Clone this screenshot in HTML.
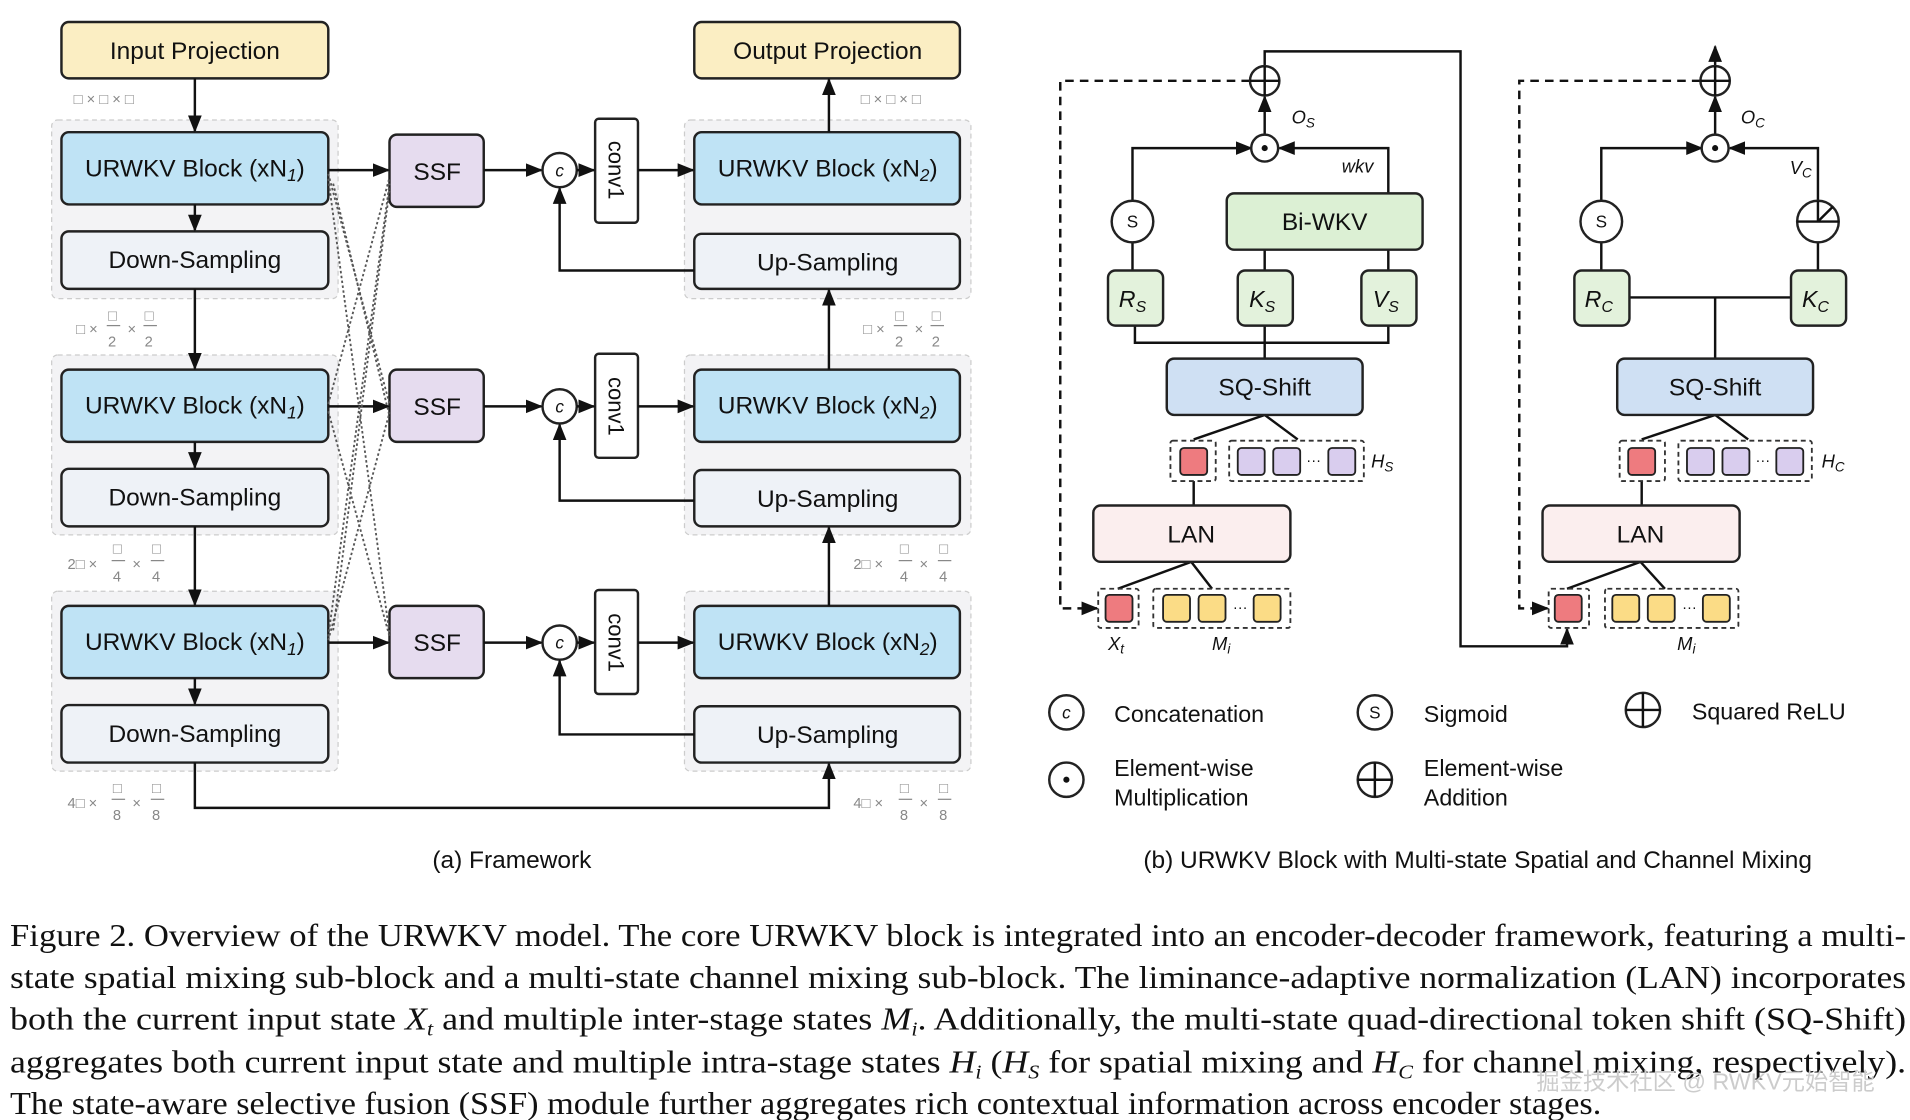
<!DOCTYPE html>
<html><head><meta charset="utf-8"><style>
html,body{margin:0;padding:0;background:#fff;}
svg{display:block}
.t{font-family:"Liberation Sans",sans-serif;fill:#111}
.s{font-family:"Liberation Serif",serif;fill:#111}
.g{font-family:"Liberation Sans",sans-serif;fill:#888;font-size:12px}
</style></head><body>
<svg width="1910" height="1120" viewBox="0 0 1560 915" xmlns="http://www.w3.org/2000/svg">
<defs>
<marker id="a" viewBox="0 0 10 10" refX="9" refY="5" markerWidth="7" markerHeight="7" orient="auto-start-reverse"><path d="M0,1 L10,5 L0,9 z" fill="#111"/></marker>
</defs>
<rect width="1560" height="915" fill="#fff"/>

<g fill="#f3f3f5" stroke="#ccc" stroke-dasharray="4,3">
<rect x="42" y="98" width="234" height="146" rx="5"/>
<rect x="42" y="290" width="234" height="147" rx="5"/>
<rect x="42" y="483" width="234" height="147" rx="5"/>
<rect x="559" y="98" width="234" height="146" rx="5"/>
<rect x="559" y="290" width="234" height="147" rx="5"/>
<rect x="559" y="483" width="234" height="147" rx="5"/>
</g>

<g stroke="#222" stroke-width="2">
<rect x="50" y="18" width="218" height="46" rx="6" fill="#fbeec3"/>
<rect x="567" y="18" width="217" height="46" rx="6" fill="#fbeec3"/>
<rect x="50" y="108" width="218" height="59" rx="6" fill="#bfe3f5"/>
<rect x="50" y="189" width="218" height="47" rx="6" fill="#eef2f7"/>
<rect x="50" y="302" width="218" height="59" rx="6" fill="#bfe3f5"/>
<rect x="50" y="383" width="218" height="47" rx="6" fill="#eef2f7"/>
<rect x="50" y="495" width="218" height="59" rx="6" fill="#bfe3f5"/>
<rect x="50" y="576" width="218" height="47" rx="6" fill="#eef2f7"/>
<rect x="567" y="108" width="217" height="59" rx="6" fill="#bfe3f5"/>
<rect x="567" y="191" width="217" height="45" rx="6" fill="#eef2f7"/>
<rect x="567" y="302" width="217" height="59" rx="6" fill="#bfe3f5"/>
<rect x="567" y="384" width="217" height="46" rx="6" fill="#eef2f7"/>
<rect x="567" y="495" width="217" height="59" rx="6" fill="#bfe3f5"/>
<rect x="567" y="577" width="217" height="46" rx="6" fill="#eef2f7"/>
<rect x="318" y="110" width="77" height="59" rx="6" fill="#e6dcef"/>
<rect x="318" y="302" width="77" height="59" rx="6" fill="#e6dcef"/>
<rect x="318" y="495" width="77" height="59" rx="6" fill="#e6dcef"/>
<rect x="486" y="97" width="35" height="85" rx="3" fill="#fff"/>
<rect x="486" y="289" width="35" height="85" rx="3" fill="#fff"/>
<rect x="486" y="482" width="35" height="85" rx="3" fill="#fff"/>
<circle cx="457" cy="139" r="14" fill="#fff"/>
<circle cx="457" cy="332" r="14" fill="#fff"/>
<circle cx="457" cy="525" r="14" fill="#fff"/>
</g>

<g class="t" font-size="20" text-anchor="middle">
<text x="159" y="48">Input Projection</text>
<text x="676" y="48">Output Projection</text>
<text x="159" y="144">URWKV Block (xN<tspan font-size="14" dy="4" font-style="italic">1</tspan><tspan dy="-4">)</tspan></text>
<text x="159" y="338">URWKV Block (xN<tspan font-size="14" dy="4" font-style="italic">1</tspan><tspan dy="-4">)</tspan></text>
<text x="159" y="531">URWKV Block (xN<tspan font-size="14" dy="4" font-style="italic">1</tspan><tspan dy="-4">)</tspan></text>
<text x="676" y="144">URWKV Block (xN<tspan font-size="14" dy="4" font-style="italic">2</tspan><tspan dy="-4">)</tspan></text>
<text x="676" y="338">URWKV Block (xN<tspan font-size="14" dy="4" font-style="italic">2</tspan><tspan dy="-4">)</tspan></text>
<text x="676" y="531">URWKV Block (xN<tspan font-size="14" dy="4" font-style="italic">2</tspan><tspan dy="-4">)</tspan></text>
<text x="159" y="219">Down-Sampling</text>
<text x="159" y="413">Down-Sampling</text>
<text x="159" y="606">Down-Sampling</text>
<text x="676" y="221">Up-Sampling</text>
<text x="676" y="414">Up-Sampling</text>
<text x="676" y="607">Up-Sampling</text>
<text x="357" y="147">SSF</text>
<text x="357" y="339">SSF</text>
<text x="357" y="532">SSF</text>
<text x="418" y="709">(a) Framework</text>
<text x="1207" y="709">(b) URWKV Block with Multi-state Spatial and Channel Mixing</text>
</g>
<g class="t" font-size="18" text-anchor="middle">
<text transform="translate(497,139) rotate(90)" y="0">conv1</text>
<text transform="translate(497,332) rotate(90)">conv1</text>
<text transform="translate(497,525) rotate(90)">conv1</text>
</g>
<g class="t" font-size="14" font-style="italic" text-anchor="middle">
<text x="457" y="144">c</text><text x="457" y="337">c</text><text x="457" y="530">c</text>
</g>

<g class="g">
<text x="60" y="85">□ × □ × □</text>
<text x="703" y="85">□ × □ × □</text>
<text x="62" y="273">□ ×</text><text x="88" y="262">□</text><text x="88" y="283">2</text><text x="104" y="273">×</text><text x="118" y="262">□</text><text x="118" y="283">2</text>
<text x="705" y="273">□ ×</text><text x="731" y="262">□</text><text x="731" y="283">2</text><text x="747" y="273">×</text><text x="761" y="262">□</text><text x="761" y="283">2</text>
<text x="55" y="465">2□ ×</text><text x="92" y="452">□</text><text x="92" y="475">4</text><text x="108" y="465">×</text><text x="124" y="452">□</text><text x="124" y="475">4</text>
<text x="697" y="465">2□ ×</text><text x="735" y="452">□</text><text x="735" y="475">4</text><text x="751" y="465">×</text><text x="767" y="452">□</text><text x="767" y="475">4</text>
<text x="55" y="660">4□ ×</text><text x="92" y="648">□</text><text x="92" y="670">8</text><text x="108" y="660">×</text><text x="124" y="648">□</text><text x="124" y="670">8</text>
<text x="697" y="660">4□ ×</text><text x="735" y="648">□</text><text x="735" y="670">8</text><text x="751" y="660">×</text><text x="767" y="648">□</text><text x="767" y="670">8</text>
</g>
<g stroke="#888" stroke-width="1">
<line x1="87" y1="266" x2="98" y2="266"/><line x1="117" y1="266" x2="128" y2="266"/>
<line x1="730" y1="266" x2="741" y2="266"/><line x1="760" y1="266" x2="771" y2="266"/>
<line x1="91" y1="458" x2="102" y2="458"/><line x1="123" y1="458" x2="134" y2="458"/>
<line x1="734" y1="458" x2="745" y2="458"/><line x1="766" y1="458" x2="777" y2="458"/>
<line x1="91" y1="653" x2="102" y2="653"/><line x1="123" y1="653" x2="134" y2="653"/>
<line x1="734" y1="653" x2="745" y2="653"/><line x1="766" y1="653" x2="777" y2="653"/>
</g>

<g stroke="#111" stroke-width="2" fill="none" marker-end="url(#a)">
<line x1="159" y1="64" x2="159" y2="107"/>
<line x1="159" y1="167" x2="159" y2="188"/>
<line x1="159" y1="236" x2="159" y2="301"/>
<line x1="159" y1="361" x2="159" y2="382"/>
<line x1="159" y1="430" x2="159" y2="494"/>
<line x1="159" y1="554" x2="159" y2="575"/>
<polyline points="159,623 159,660 677,660 677,624"/>
<line x1="677" y1="108" x2="677" y2="65"/>
<line x1="677" y1="302" x2="677" y2="237"/>
<line x1="677" y1="495" x2="677" y2="431"/>
<line x1="268" y1="139" x2="317" y2="139"/>
<line x1="268" y1="332" x2="317" y2="332"/>
<line x1="268" y1="525" x2="317" y2="525"/>
<line x1="395" y1="139" x2="442" y2="139"/>
<line x1="395" y1="332" x2="442" y2="332"/>
<line x1="395" y1="525" x2="442" y2="525"/>
<line x1="471" y1="139" x2="485" y2="139"/>
<line x1="471" y1="332" x2="485" y2="332"/>
<line x1="471" y1="525" x2="485" y2="525"/>
<line x1="521" y1="139" x2="566" y2="139"/>
<line x1="521" y1="332" x2="566" y2="332"/>
<line x1="521" y1="525" x2="566" y2="525"/>
<polyline points="567,221 457,221 457,154"/>
<polyline points="567,409 457,409 457,347"/>
<polyline points="567,600 457,600 457,540"/>
</g>
<g stroke="#555" stroke-width="1.5" stroke-dasharray="2,2" fill="none">
<line x1="268" y1="142" x2="318" y2="330"/><line x1="268" y1="146" x2="318" y2="518"/>
<line x1="268" y1="330" x2="318" y2="145"/><line x1="268" y1="336" x2="318" y2="520"/>
<line x1="268" y1="520" x2="318" y2="150"/><line x1="268" y1="523" x2="318" y2="337"/>
<line x1="272" y1="150" x2="318" y2="340"/><line x1="272" y1="515" x2="318" y2="155"/>
</g>

<g stroke="#111" stroke-width="2" fill="none">
<polyline points="1021,66 866,66 866,497 896,497" stroke-dasharray="7,5" marker-end="url(#a)"/>
<polyline points="1389,66 1241,66 1241,497 1264,497" stroke-dasharray="7,5" marker-end="url(#a)"/>
<polyline points="1033,54 1033,42 1193,42 1193,528 1280,528 1280,514" marker-end="url(#a)"/>
<line x1="1033" y1="110" x2="1033" y2="79" marker-end="url(#a)"/>
<line x1="1401" y1="110" x2="1401" y2="79" marker-end="url(#a)"/>
<line x1="1401" y1="54" x2="1401" y2="38" marker-end="url(#a)"/>
<polyline points="1033,293 1033,280"/>
<polyline points="927,266 927,280 1134,280 1134,266"/>
<line x1="1033" y1="266" x2="1033" y2="280"/>
<line x1="1033" y1="221" x2="1033" y2="204"/>
<line x1="1134" y1="221" x2="1134" y2="204"/>
<line x1="925" y1="221" x2="925" y2="198"/>
<polyline points="925,164 925,121 1022,121" marker-end="url(#a)"/>
<polyline points="1134,158 1134,121 1045,121" marker-end="url(#a)"/>
<polyline points="975,359 1033,339 1060,359"/>
<polyline points="913,481 973,459 990,481"/>
<line x1="975" y1="393" x2="975" y2="413"/>
<line x1="1330" y1="243" x2="1463" y2="243"/>
<line x1="1401" y1="243" x2="1401" y2="293"/>
<line x1="1308" y1="221" x2="1308" y2="198"/>
<polyline points="1308,164 1308,121 1390,121" marker-end="url(#a)"/>
<line x1="1485" y1="221" x2="1485" y2="198"/>
<polyline points="1485,164 1485,121 1413,121" marker-end="url(#a)"/>
<polyline points="1341,359 1401,339 1428,359"/>
<polyline points="1280,481 1340,459 1360,481"/>
<line x1="1341" y1="393" x2="1341" y2="413"/>
</g>

<g stroke="#222" stroke-width="2">
<rect x="1002" y="158" width="160" height="46" rx="6" fill="#dcf0d4"/>
<rect x="905" y="221" width="45" height="45" rx="6" fill="#e3f2dc"/>
<rect x="1011" y="221" width="45" height="45" rx="6" fill="#e3f2dc"/>
<rect x="1112" y="221" width="45" height="45" rx="6" fill="#e3f2dc"/>
<rect x="1286" y="221" width="45" height="45" rx="6" fill="#e3f2dc"/>
<rect x="1463" y="221" width="45" height="45" rx="6" fill="#e3f2dc"/>
<rect x="953" y="293" width="160" height="46" rx="6" fill="#cfe0f3"/>
<rect x="1321" y="293" width="160" height="46" rx="6" fill="#cfe0f3"/>
<rect x="893" y="413" width="161" height="46" rx="6" fill="#fbeeee"/>
<rect x="1260" y="413" width="161" height="46" rx="6" fill="#fbeeee"/>
<circle cx="925" cy="181" r="17" fill="#fff"/>
<circle cx="1308" cy="181" r="17" fill="#fff"/>
<circle cx="1485" cy="181" r="17" fill="#fff"/>
<circle cx="1033" cy="66" r="12" fill="#fff"/>
<circle cx="1401" cy="66" r="12" fill="#fff"/>
<circle cx="1033" cy="121" r="11" fill="#fff"/>
<circle cx="1401" cy="121" r="11" fill="#fff"/>
<circle cx="871" cy="582" r="14" fill="#fff"/>
<circle cx="1123" cy="582" r="14" fill="#fff"/>
<circle cx="1342" cy="580" r="14" fill="#fff"/>
<circle cx="871" cy="637" r="14" fill="#fff"/>
<circle cx="1123" cy="637" r="14" fill="#fff"/>
</g>
<g stroke="#111" stroke-width="2">
<line x1="1021" y1="66" x2="1045" y2="66"/><line x1="1033" y1="54" x2="1033" y2="78"/>
<line x1="1389" y1="66" x2="1413" y2="66"/><line x1="1401" y1="54" x2="1401" y2="78"/>
<line x1="1109" y1="637" x2="1137" y2="637"/><line x1="1123" y1="623" x2="1123" y2="651"/>
<line x1="1328" y1="580" x2="1356" y2="580"/><line x1="1342" y1="566" x2="1342" y2="594"/>
<line x1="1468" y1="181" x2="1502" y2="181"/><line x1="1485" y1="164" x2="1485" y2="181"/><line x1="1485" y1="181" x2="1497" y2="169"/>
</g>
<g fill="#111"><circle cx="1033" cy="121" r="2.5"/><circle cx="1401" cy="121" r="2.5"/><circle cx="871" cy="637" r="2.5"/></g>

<g fill="none" stroke="#333" stroke-width="1.5" stroke-dasharray="4,3">
<rect x="956" y="360" width="37" height="33" rx="2"/><rect x="1004" y="360" width="110" height="33" rx="2"/>
<rect x="1323" y="360" width="37" height="33" rx="2"/><rect x="1371" y="360" width="109" height="33" rx="2"/>
<rect x="897" y="481" width="33" height="32" rx="2"/><rect x="942" y="481" width="112" height="32" rx="2"/>
<rect x="1265" y="481" width="33" height="32" rx="2"/><rect x="1311" y="481" width="109" height="32" rx="2"/>
</g>
<g stroke="#222" stroke-width="1.5">
<rect x="964" y="366" width="22" height="22" rx="3" fill="#ee7b7f"/>
<rect x="1011" y="366" width="22" height="22" rx="3" fill="#d9cdee"/><rect x="1040" y="366" width="22" height="22" rx="3" fill="#d9cdee"/><rect x="1085" y="366" width="22" height="22" rx="3" fill="#d9cdee"/>
<rect x="1330" y="366" width="22" height="22" rx="3" fill="#ee7b7f"/>
<rect x="1378" y="366" width="22" height="22" rx="3" fill="#d9cdee"/><rect x="1407" y="366" width="22" height="22" rx="3" fill="#d9cdee"/><rect x="1451" y="366" width="22" height="22" rx="3" fill="#d9cdee"/>
<rect x="903" y="486" width="22" height="22" rx="3" fill="#ee7b7f"/>
<rect x="950" y="486" width="22" height="22" rx="3" fill="#fbdc86"/><rect x="979" y="486" width="22" height="22" rx="3" fill="#fbdc86"/><rect x="1024" y="486" width="22" height="22" rx="3" fill="#fbdc86"/>
<rect x="1270" y="486" width="22" height="22" rx="3" fill="#ee7b7f"/>
<rect x="1317" y="486" width="22" height="22" rx="3" fill="#fbdc86"/><rect x="1346" y="486" width="22" height="22" rx="3" fill="#fbdc86"/><rect x="1391" y="486" width="22" height="22" rx="3" fill="#fbdc86"/>
</g>
<g class="t" font-size="12" text-anchor="middle">
<text x="1073" y="380">···</text><text x="1440" y="380">···</text><text x="1013" y="500">···</text><text x="1380" y="500">···</text>
</g>

<g class="t" font-size="20" text-anchor="middle">
<text x="1082" y="188">Bi-WKV</text>
<text x="1033" y="323">SQ-Shift</text><text x="1401" y="323">SQ-Shift</text>
<text x="973" y="443">LAN</text><text x="1340" y="443">LAN</text>
</g>
<g class="t" font-size="19" font-style="italic" text-anchor="middle">
<text x="925" y="251">R<tspan font-size="13" dy="4">S</tspan></text>
<text x="1031" y="251">K<tspan font-size="13" dy="4">S</tspan></text>
<text x="1132" y="251">V<tspan font-size="13" dy="4">S</tspan></text>
<text x="1306" y="251">R<tspan font-size="13" dy="4">C</tspan></text>
<text x="1483" y="251">K<tspan font-size="13" dy="4">C</tspan></text>
</g>
<g class="t" font-size="15" font-style="italic">
<text x="1055" y="101">O<tspan font-size="11" dy="3">S</tspan></text>
<text x="1422" y="101">O<tspan font-size="11" dy="3">C</tspan></text>
<text x="1096" y="141">wkv</text>
<text x="1462" y="142">V<tspan font-size="11" dy="3">C</tspan></text>
<text x="1120" y="382">H<tspan font-size="11" dy="3">S</tspan></text>
<text x="1488" y="382">H<tspan font-size="11" dy="3">C</tspan></text>
<text x="905" y="531">X<tspan font-size="11" dy="3">t</tspan></text>
<text x="990" y="531">M<tspan font-size="11" dy="3">i</tspan></text>
<text x="1370" y="531">M<tspan font-size="11" dy="3">i</tspan></text>
</g>
<g class="t" font-size="14" text-anchor="middle">
<text x="925" y="186">S</text><text x="1308" y="186">S</text><text x="1123" y="587">S</text>
<text x="871" y="587" font-style="italic">c</text>
</g>
<g class="t" font-size="19">
<text x="910" y="590">Concatenation</text>
<text x="1163" y="590">Sigmoid</text>
<text x="1382" y="588">Squared ReLU</text>
<text x="910" y="634">Element-wise</text><text x="910" y="658">Multiplication</text>
<text x="1163" y="634">Element-wise</text><text x="1163" y="658">Addition</text>
</g>

<g class="s" font-size="26">
<text x="8" y="773" textLength="1549" lengthAdjust="spacingAndGlyphs">Figure 2. Overview of the URWKV model. The core URWKV block is integrated into an encoder-decoder framework, featuring a multi-</text>
<text x="8" y="807" textLength="1549" lengthAdjust="spacingAndGlyphs">state spatial mixing sub-block and a multi-state channel mixing sub-block.  The liminance-adaptive normalization (LAN) incorporates</text>
<text x="8" y="841" textLength="1549" lengthAdjust="spacingAndGlyphs">both the current input state <tspan font-style="italic">X</tspan><tspan font-size="16" dy="5" font-style="italic">t</tspan><tspan dy="-5"> and multiple inter-stage states </tspan><tspan font-style="italic">M</tspan><tspan font-size="16" dy="5" font-style="italic">i</tspan><tspan dy="-5">.  Additionally, the multi-state quad-directional token shift (SQ-Shift)</tspan></text>
<text x="8" y="876" textLength="1549" lengthAdjust="spacingAndGlyphs">aggregates both current input state and multiple intra-stage states <tspan font-style="italic">H</tspan><tspan font-size="16" dy="5" font-style="italic">i</tspan><tspan dy="-5"> (</tspan><tspan font-style="italic">H</tspan><tspan font-size="16" dy="5" font-style="italic">S</tspan><tspan dy="-5"> for spatial mixing and </tspan><tspan font-style="italic">H</tspan><tspan font-size="16" dy="5" font-style="italic">C</tspan><tspan dy="-5"> for channel mixing, respectively).</tspan></text>
<text x="8" y="910" textLength="1300" lengthAdjust="spacingAndGlyphs">The state-aware selective fusion (SSF) module further aggregates rich contextual information across encoder stages.</text>
</g>
<text x="1255" y="890" font-family="Liberation Sans,Noto Sans CJK SC,sans-serif" font-size="19" fill="#ccc">掘金技术社区 @ RWKV元始智能</text>
</svg>
</body></html>
